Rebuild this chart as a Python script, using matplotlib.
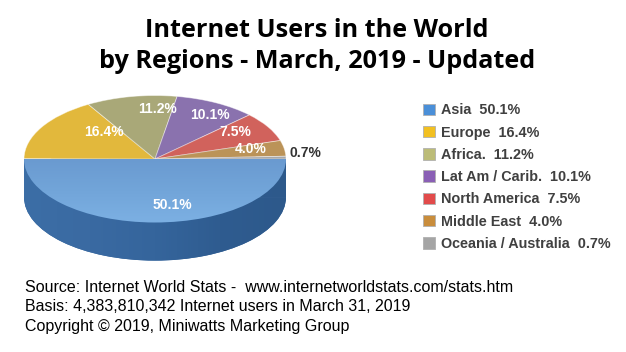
import matplotlib
matplotlib.use("Agg")
import matplotlib.pyplot as plt
from matplotlib.patches import Patch
from matplotlib.colors import LinearSegmentedColormap
import numpy as np

# ---- data ----
regions = ["Asia", "Europe", "Africa.", "Lat Am / Carib.", "North America",
           "Middle East", "Oceania / Australia"]
shares = [50.1, 16.4, 11.2, 10.1, 7.5, 4.0, 0.7]
title_lines = ["Internet Users in the World", "by Regions - March, 2019 - Updated"]
footer_lines = [
    "Source: Internet World Stats -  www.internetworldstats.com/stats.htm",
    "Basis: 4,383,810,342 Internet users in March 31, 2019",
    "Copyright \u00a9 2019, Miniwatts Marketing Group",
]

# ---- styles ----
top_colors = ["#6f9fd3", "#e2b83c", "#a9a878", "#8a72ae", "#d1625c", "#bb9358", "#a8a8a8"]
side_colors = ["#36679e", "#b08a22", "#7f7e52", "#5f4a82", "#a5403b", "#8d6a38", "#7d7d7d"]
legend_colors = ["#4a8fd8", "#f2c021", "#bcbc78", "#8a5fb5", "#e24b4b", "#c98d3c", "#a5a5a5"]

W, H = 626, 352
fig = plt.figure(figsize=(W / 100, H / 100), dpi=100)
fig.patch.set_facecolor("white")

def fx(px):
    return px / W

def fy(py):
    return 1 - py / H

# pie axes placement (pixel geometry)
cx, cy, rx, ry = 155, 159, 131, 63.5
xl = (-1.1, 1.1)
yl = (-1.75, 1.1)
left = cx + rx * xl[0]
right = cx + rx * xl[1]
top = cy - ry * yl[1]
bottom = cy - ry * yl[0]
ax = fig.add_axes([fx(left), fy(bottom), (right - left) / W, (bottom - top) / H])

depth = 0.6
# bottom (shifted) pie for the side
side_wedges, _ = ax.pie(shares, startangle=0, counterclock=False, colors=side_colors,
                        center=(0, -depth), radius=1, wedgeprops=dict(linewidth=0))
band = ax.fill_between([-1, 1], -depth, 0, color=side_colors[0], linewidth=0)
# top pie
wedges, _ = ax.pie(shares, startangle=0, counterclock=False, colors=top_colors,
                   center=(0, 0), radius=1,
                   wedgeprops=dict(linewidth=0.6, edgecolor=(1, 1, 1, 0.5)))
ax.set_aspect("auto")

# shading of the front side (horizontal gradient)
side_cmap = LinearSegmentedColormap.from_list(
    "side", ["#3c6ea6", "#3a6aa2", "#35659c", "#2f5c90", "#2d598b"])
hgrad = np.linspace(0, 1, 256).reshape(1, -1)
for clip in (side_wedges[0], (band.get_paths()[0], ax.transData)):
    im = ax.imshow(hgrad, extent=(-1, 1, -1 - depth, 0), cmap=side_cmap,
                   aspect="auto", zorder=1.2, interpolation="bilinear")
    if isinstance(clip, tuple):
        im.set_clip_path(*clip)
    else:
        im.set_clip_path(clip)

# shading of the Asia top face (vertical gradient)
top_cmap = LinearSegmentedColormap.from_list("top", ["#6a9ad0", "#72a5d9", "#7cb0e3"])
vgrad = np.linspace(0, 1, 256).reshape(-1, 1)
im2 = ax.imshow(vgrad, extent=(-1, 1, -1, 0), cmap=top_cmap, origin="upper",
                aspect="auto", zorder=1.5, interpolation="bilinear")
im2.set_clip_path(wedges[0])

ax.set_xlim(*xl)
ax.set_ylim(*yl)
ax.axis("off")

# labels (normalized pie coordinates)
label_xy = [(0.13, -0.72), (-0.39, 0.42), (0.02, 0.78), (0.42, 0.70),
            (0.61, 0.42), (0.73, 0.15), (1.03, 0.09)]
for i, (v, (lx, ly)) in enumerate(zip(shares, label_xy)):
    if i == len(shares) - 1:
        ax.text(lx, ly, f"{v:.1f}%", color="#333333", fontsize=10, zorder=5,
                fontweight="bold", family="Liberation Sans", ha="left", va="center")
    else:
        ax.text(lx, ly, f"{v:.1f}%", color="white", fontsize=10, zorder=5,
                fontweight="bold", family="Liberation Sans", ha="center", va="center")

# title
for txt, base in zip(title_lines, [37, 68]):
    fig.text(fx(317), fy(base), txt, ha="center", va="baseline", fontsize=18.2,
             fontweight="bold", family="Open Sans", color="black")

# legend
handles = [Patch(facecolor=c, edgecolor="#b0b0b0", linewidth=0.6) for c in legend_colors]
labels = [f"{r}  {v:.1f}%" for r, v in zip(regions, shares)]
leg = fig.legend(handles, labels, loc="upper left",
                 bbox_to_anchor=(fx(423), fy(103.5)), frameon=False,
                 prop=dict(family="Liberation Sans", weight="bold", size=10.4),
                 handlelength=0.85, handleheight=0.85, handletextpad=0.4,
                 labelspacing=0.57, borderpad=0, borderaxespad=0)
for t in leg.get_texts():
    t.set_color("#404040")

# footer
for txt, base in zip(footer_lines, [292, 311, 331]):
    fig.text(fx(25), fy(base), txt, ha="left", va="baseline", fontsize=11.55,
             family="Liberation Sans", color="black")

fig.savefig("out.png", dpi=100, facecolor="white")
